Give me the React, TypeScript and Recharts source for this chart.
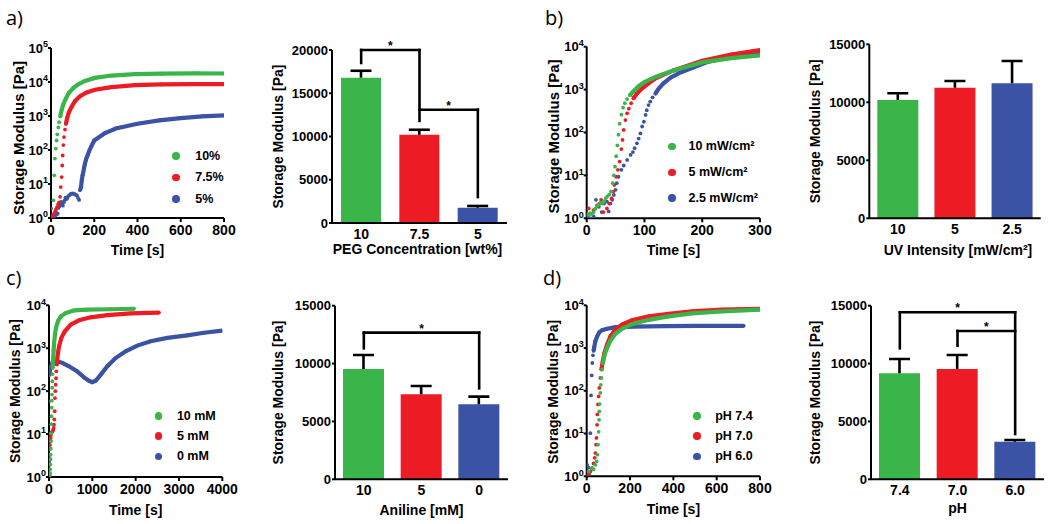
import React from 'react';
import {
  ScatterChart, Scatter, XAxis, YAxis, BarChart, Bar, Cell, ReferenceLine, Legend,
} from 'recharts';

const FONT = "'Liberation Sans', Arial, Helvetica, sans-serif";
const GREEN = '#39B54A';
const RED = '#ED1C24';
const BLUE = '#3A53A4';

// ---------- Panel a: PEG concentration (time [s], storage modulus [Pa]) ----------
const a10Dots = [[11, 3.3], [15, 18], [18, 56], [22, 110], [26, 190], [29, 290], [34, 460], [38, 660], [43, 980]];
const a10Trace = [[43, 980], [49, 1500], [57, 2200], [68, 3200], [83, 4800], [103, 6600], [126, 8500], [157, 10700], [203, 13200], [280, 15500], [388, 17000], [512, 17600], [666, 18000], [800, 17800]];
const a75Dots = [[3, 1.07], [8, 1.2], [13, 1.3], [18, 1.5], [23, 1.8], [28, 2.1], [33, 2.5], [37, 2.9], [42, 4.2], [45, 8.1], [49, 16], [52, 35], [54, 69], [57, 140], [60, 240], [65, 400], [69, 590]];
const a75Trace = [[69, 590], [75, 890], [83, 1300], [96, 1900], [111, 2750], [134, 3800], [165, 4900], [203, 5900], [280, 7100], [388, 8100], [512, 8500], [666, 8700], [800, 8700]];
const a5Dots = [[0, 1.9], [6, 1.07], [11, 1.0], [15, 1.2], [19, 1.1], [23, 1.5], [27, 1.3], [31, 1.35], [35, 2.0], [39, 2.2], [43, 2.6], [47, 3.0], [51, 2.8], [55, 2.3], [59, 2.9], [63, 3.3], [67, 4.0], [72, 3.6], [76, 3.9], [80, 4.4], [85, 4.7], [90, 5.0], [95, 5.2], [100, 5.3], [105, 5.1], [110, 5.0], [115, 4.8], [120, 4.6], [125, 3.9], [130, 3.4]];
const a5Trace = [[134, 6.5], [139, 8.1], [142, 12.6], [146, 18], [149, 22], [153, 30], [157, 40], [163, 55], [169, 69], [177, 95], [185, 123], [200, 190], [250, 316], [300, 430], [400, 590], [500, 740], [600, 870], [700, 980], [800, 1050]];

// ---------- Panel b: UV intensity ----------
const b10Dots = [[0, 1.26], [3, 1.2], [6, 1.3], [9, 1.26], [12, 1.4], [15, 1.66], [18, 1.9], [21, 2.1], [24, 2.3], [27, 2.24], [30, 2.5], [33, 2.95], [36, 3.3], [39, 3.55], [42, 4.2], [45, 6.6], [47, 10], [49, 16], [51, 28], [53, 50], [55, 89], [57, 160], [60, 260], [63, 380], [66, 480], [70, 600], [75, 740]];
const b10Trace = [[75, 740], [80, 890], [90, 1200], [100, 1500], [120, 2000], [150, 2800], [200, 4300], [250, 5400], [300, 6300]];
const b5Dots = [[3.5, 1.7], [6, 1.3], [12, 1.55], [18, 2.0], [22, 2.2], [25, 2.7], [29, 1.4], [35, 1.7], [39, 2.2], [43, 2.9], [46, 4.2], [48, 6.0], [51, 9.3], [54, 13.5], [57, 21], [60, 41], [62, 67], [64, 115], [67, 195], [70, 280], [73, 360], [77, 480], [81, 630]];
const b5Trace = [[81, 630], [87, 810], [96, 1070], [107, 1400], [120, 1860], [150, 2800], [200, 4700], [250, 6600], [300, 8300]];
const b25Dots = [[2, 1.1], [6, 1.0], [12, 1.1], [16, 2.7], [21, 1.86], [26, 1.4], [30, 2.2], [35, 2.45], [38, 1.45], [41, 2.2], [44, 2.7], [47, 3.5], [50, 4.6], [52, 6.6], [55, 9.3], [60, 13.5], [64, 17], [70, 23], [76, 30], [80, 35], [83, 43], [87, 56], [90, 72], [93, 95], [96, 138], [99, 178], [102, 257], [104, 330], [107, 436], [110, 525], [114, 660], [119, 810]];
const b25Trace = [[119, 810], [125, 1070], [133, 1400], [145, 1900], [159, 2400], [182, 3200], [211, 4500], [252, 5900], [300, 7200]];

// ---------- Panel c: aniline ----------
const c10Dots = [[20, 1.1], [23, 1.23], [27, 1.5], [31, 1.95], [35, 2.6], [38, 3.3], [42, 4.6], [46, 6.8], [50, 10.5], [54, 17], [58, 26], [62, 41], [66, 60], [69, 83], [73, 120], [77, 170], [81, 250], [85, 350]];
const c10Trace = [[85, 350], [92, 480], [100, 650], [107, 900], [115, 1200], [138, 2100], [162, 3000], [208, 4300], [269, 5500], [385, 6600], [577, 7600], [885, 7900], [1423, 8100], [1962, 8300]];
const c5Dots = [[0, 1.1], [4, 1.5], [8, 1.95], [12, 2.6], [15, 3.3], [19, 4.5], [23, 5.6], [30, 7], [38, 8.1], [46, 9.5], [54, 10.7], [65, 11], [77, 11.5], [90, 12], [100, 12.6], [108, 14], [115, 16.6], [123, 22], [131, 34], [138, 69], [146, 100], [154, 141], [162, 200], [169, 290], [180, 420]];
const c5Trace = [[180, 420], [192, 590], [210, 800], [231, 1100], [285, 1740], [362, 2450], [500, 3550], [692, 4470], [962, 5250], [1346, 5900], [1885, 6460], [2538, 6760]];
const c0Dots = [[0, 2.3], [0, 58], [8, 240]];
const c0Trace = [[8, 240], [23, 316], [77, 457], [192, 500], [308, 457], [462, 380], [654, 288], [808, 209], [923, 174], [1000, 162], [1077, 174], [1192, 240], [1346, 380], [1538, 590], [1769, 850], [2038, 1150], [2346, 1450], [2731, 1740], [3192, 2000], [3577, 2290], [4000, 2570]];

// ---------- Panel d: pH ----------
const d74Dots = [[9, 1.3], [25, 1.55], [32, 1.45], [40, 1.86], [46, 2.24], [49, 3.2], [52, 5.5], [55, 11], [57, 21], [58, 33], [60, 49], [63, 89], [65, 138], [68, 200], [71, 316], [75, 447]];
const d74Trace = [[75, 447], [83, 708], [94, 1000], [109, 1480], [132, 2140], [163, 2820], [209, 3630], [286, 4570], [378, 5500], [486, 6460], [625, 7240], [800, 7940]];
const d70Dots = [[2, 1.1], [9, 1.2], [17, 1.3], [25, 1.55], [32, 2.0], [37, 2.7], [40, 3.5], [43, 5.5], [45, 7.9], [48, 16], [49, 28], [52, 48], [55, 74], [58, 117], [63, 200], [68, 316]];
const d70Trace = [[68, 316], [74, 490], [82, 780], [94, 1200], [109, 1860], [132, 2690], [163, 3550], [209, 4470], [286, 5500], [378, 6310], [486, 7240], [625, 7940], [800, 8300]];
const d60Dots = [[2, 1.86], [5, 1.3], [8, 1.6], [12, 1.1], [17, 10.2], [20, 78], [23, 229], [26, 447], [29, 676], [32, 870]];
const d60Trace = [[32, 870], [35, 1070], [40, 1450], [48, 1860], [58, 2340], [71, 2630], [94, 2820], [132, 3090], [209, 3160], [363, 3240], [517, 3310], [725, 3310]];

// ---------- Bar panels ----------
const aCats = ['10', '7.5', '5'];
const aMean = [16800, 10200, 1770];
const aErr = [800, 580, 200];
const bCats = ['10', '5', '2.5'];
const bMean = [10200, 11260, 11640];
const bErr = [580, 580, 1920];
const cCats = ['10', '5', '0'];
const cMean = [9530, 7340, 6480];
const cErr = [1210, 720, 660];
const dCats = ['7.4', '7.0', '6.0'];
const dMean = [9160, 9530, 3250];
const dErr = [1230, 1210, 150];

const aBrackets = [
  { from: '10', to: '7.5', y: 20000, left: 18500, right: 11800 },
  { from: '7.5', to: '5', y: 13100, left: null, right: 3000 },
];
const cBrackets = [{ from: '10', to: '0', y: 12670, left: 11320, right: 7860 }];
const dBrackets = [
  { from: '7.4', to: '6.0', y: 14430, left: 11320, right: 3910 },
  { from: '7.0', to: '6.0', y: 12810, left: 11540, right: null },
];

const logTimeTicksA = [0, 200, 400, 600, 800];
const logTimeTicksB = [0, 100, 200, 300];
const logTimeTicksC = [0, 1000, 2000, 3000, 4000];
const logYTicks5 = [1, 10, 100, 1000, 10000, 100000];
const logYTicks4 = [1, 10, 100, 1000, 10000];
const barYTicks20 = [0, 5000, 10000, 15000, 20000];
const barYTicks15 = [0, 5000, 10000, 15000];
const barColors = [GREEN, RED, BLUE];

const toXY = (arr: number[][]) => arr.map(([t, g]) => ({ t, g }));
const AX = { stroke: '#000', strokeWidth: 2 };

const LogTick = (p: any) => {
  const e = Math.round(Math.log10(p.payload.value));
  return (
    <text x={p.x} y={p.y} textAnchor="end" fill="#000" fontFamily={FONT} fontWeight="bold" fontSize={13} dy="0.36em">
      <tspan>10</tspan>
      <tspan dy="-0.6em" fontSize={9}>{e}</tspan>
    </text>
  );
};

const yTitle = (text: string, dx: number, dy: number, size: number) => (p: any) => {
  const vb = p.viewBox || {};
  const x = (vb.x || 0) + dx;
  const y = (vb.y || 0) + (vb.height || 0) / 2 + dy;
  return (
    <text x={x} y={y} transform={`rotate(-90 ${x} ${y})`} textAnchor="middle" dominantBaseline="central"
      fontFamily={FONT} fontWeight="bold" fontSize={size} fill="#000">{text}</text>
  );
};

const xTitle = (text: string, off: number, dx: number) => (p: any) => {
  const vb = p.viewBox || {};
  const x = (vb.x || 0) + (vb.width || 0) / 2 + dx;
  const y = (vb.y || 0) + (vb.height || 0) - off;
  return (
    <text x={x} y={y} textAnchor="middle" fontFamily={FONT} fontWeight="bold" fontSize={14} fill="#000">{text}</text>
  );
};

const legendContent = (gap: number, rowH: number, order: string[]) => (props: any) => {
  const items = (props.payload || [])
    .filter((it: any) => it.type !== 'none' && order.indexOf(it.value) >= 0)
    .slice()
    .sort((a: any, b: any) => order.indexOf(a.value) - order.indexOf(b.value));
  return (
    <div>
      {items.map((it: any, i: number) => (
        <div key={i} style={{ display: 'flex', alignItems: 'center', height: rowH }}>
          <span style={{ width: 7.6, height: 7.6, borderRadius: '50%', background: it.color, display: 'inline-block', flex: 'none' }} />
          <span style={{ marginLeft: gap, fontFamily: FONT, fontWeight: 'bold', fontSize: 12.5, color: '#000', whiteSpace: 'nowrap', lineHeight: 1 }}>{it.value}</span>
        </div>
      ))}
    </div>
  );
};

const dotShape = (color: string) => (p: any) => <circle cx={p.cx} cy={p.cy} r={1.9} fill={color} />;

type Series = { name: string; color: string; dots: number[][]; trace: number[][] };

function LogPanel(props: any) {
  const { L, T, W, H, mt, mr, yw, xh, xMax, xTicks, yTicks, series, xOff, yDx, yDy, ySize, leg } = props;
  const children: any[] = [];
  // draw last-listed series first so the first-listed one sits on top
  (series as Series[]).slice().reverse().forEach((s, i) => {
    children.push(
      <Scatter key={`d${i}`} data={toXY(s.dots)} fill={s.color} legendType="none" shape={dotShape(s.color)} isAnimationActive={false} />
    );
    children.push(
      <Scatter key={`t${i}`} name={s.name} data={toXY(s.trace)} fill={s.color} line={{ stroke: s.color, strokeWidth: 4.2 }}
        shape={dotShape(s.color)} isAnimationActive={false} />
    );
  });
  const order = (series as Series[]).map((s) => s.name);
  return (
    <div style={{ position: 'absolute', left: L, top: T }}>
      <ScatterChart width={W} height={H} margin={{ top: mt, right: mr, bottom: 0, left: 0 }}>
        <XAxis type="number" dataKey="t" domain={[0, xMax]} ticks={xTicks} interval={0} height={xh}
          axisLine={AX} tickLine={AX} tickSize={4} tickMargin={3} allowDataOverflow
          tick={{ fill: '#000', fontSize: 14, fontWeight: 'bold', fontFamily: FONT }}
          label={xTitle('Time [s]', xOff, 0)} />
        <YAxis type="number" dataKey="g" scale="log" domain={[1, yTicks[yTicks.length - 1]]} ticks={yTicks} interval={0}
          width={yw} axisLine={AX} tickLine={AX} tickSize={3} tickMargin={0} allowDataOverflow
          tick={LogTick} label={yTitle('Storage Modulus [Pa]', yDx, yDy, ySize)} />
        {children}
        <Legend layout="vertical" align="center" verticalAlign="middle"
          wrapperStyle={{ left: leg.left, top: leg.top, width: 140, height: 'auto' }}
          content={legendContent(leg.gap, leg.rowH, order)} />
      </ScatterChart>
    </div>
  );
}

const ErrShape = (p: any) => {
  const cx = p.x + p.width / 2;
  return (
    <g>
      <line x1={cx} x2={cx} y1={p.y + p.height} y2={p.y} stroke="#000" strokeWidth={2.6} />
      <line x1={cx - 10.5} x2={cx + 10.5} y1={p.y} y2={p.y} stroke="#000" strokeWidth={2.6} />
    </g>
  );
};

function BarPanel(props: any) {
  const { L, T, W, H, mt, mr, yw, xh, cats, mean, err, yTicks, brackets, xLabel, xOff, xDx, yDx, barSize } = props;
  const rows = cats.map((c: string, i: number) => ({ cat: c, mean: mean[i], err: err[i] }));
  const lines: any[] = [];
  (brackets || []).forEach((b: any, i: number) => {
    lines.push(
      <ReferenceLine key={`h${i}`} segment={[{ x: b.from, y: b.y }, { x: b.to, y: b.y }]} stroke="#000" strokeWidth={2.6}
        strokeLinecap="square" ifOverflow="visible"
        label={{ value: '*', position: 'top', offset: 0, fill: '#000', fontSize: 12, fontWeight: 'bold', fontFamily: FONT }} />
    );
    if (b.left != null) {
      lines.push(
        <ReferenceLine key={`l${i}`} segment={[{ x: b.from, y: b.y }, { x: b.from, y: b.left }]} stroke="#000" strokeWidth={2.6}
          strokeLinecap="square" ifOverflow="visible" />
      );
    }
    if (b.right != null) {
      lines.push(
        <ReferenceLine key={`r${i}`} segment={[{ x: b.to, y: b.y }, { x: b.to, y: b.right }]} stroke="#000" strokeWidth={2.6}
          strokeLinecap="square" ifOverflow="visible" />
      );
    }
  });
  return (
    <div style={{ position: 'absolute', left: L, top: T }}>
      <BarChart width={W} height={H} data={rows} margin={{ top: mt, right: mr, bottom: 0, left: 0 }} barSize={barSize}>
        <XAxis dataKey="cat" type="category" height={xh} axisLine={AX} tickLine={false} tickSize={3} tickMargin={3} interval={0}
          tick={{ fill: '#000', fontSize: 14, fontWeight: 'bold', fontFamily: FONT }}
          label={xTitle(xLabel, xOff, xDx)} />
        <YAxis type="number" domain={[0, yTicks[yTicks.length - 1]]} ticks={yTicks} interval={0} width={yw}
          axisLine={AX} tickLine={AX} tickSize={3} tickMargin={1} allowDataOverflow
          tick={{ fill: '#000', fontSize: 13, fontWeight: 'bold', fontFamily: FONT }}
          label={yTitle('Storage Modulus [Pa]', yDx, 0, 14)} />
        <Bar dataKey="mean" stackId="s" isAnimationActive={false}>
          {cats.map((c: string, i: number) => <Cell key={c} fill={barColors[i]} />)}
        </Bar>
        <Bar dataKey="err" stackId="s" isAnimationActive={false} shape={ErrShape} />
        {lines}
      </BarChart>
    </div>
  );
}

const panelLetters = ['a)', 'b)', 'c)', 'd)'];
const letterPos = [[6, 25], [545, 25], [6, 285], [543, 285]];

export default function App() {
  const aSeries: Series[] = [
    { name: '10%', color: GREEN, dots: a10Dots, trace: a10Trace },
    { name: '7.5%', color: RED, dots: a75Dots, trace: a75Trace },
    { name: '5%', color: BLUE, dots: a5Dots, trace: a5Trace },
  ];
  const bSeries: Series[] = [
    { name: '10 mW/cm²', color: GREEN, dots: b10Dots, trace: b10Trace },
    { name: '5 mW/cm²', color: RED, dots: b5Dots, trace: b5Trace },
    { name: '2.5 mW/cm²', color: BLUE, dots: b25Dots, trace: b25Trace },
  ];
  const cSeries: Series[] = [
    { name: '10 mM', color: GREEN, dots: c10Dots, trace: c10Trace },
    { name: '5 mM', color: RED, dots: c5Dots, trace: c5Trace },
    { name: '0 mM', color: BLUE, dots: c0Dots, trace: c0Trace },
  ];
  const dSeries: Series[] = [
    { name: 'pH 7.4', color: GREEN, dots: d74Dots, trace: d74Trace },
    { name: 'pH 7.0', color: RED, dots: d70Dots, trace: d70Trace },
    { name: 'pH 6.0', color: BLUE, dots: d60Dots, trace: d60Trace },
  ];
  return (
    <div style={{ position: 'absolute', left: 0, top: 0, width: 1050, height: 524, background: '#fff', overflow: 'hidden' }}>
      <LogPanel L={0} T={0} W={240} H={262} mt={48} mr={16} yw={51} xh={44} xMax={800} xTicks={logTimeTicksA}
        yTicks={logYTicks5} series={aSeries} xOff={7} yDx={18.5} yDy={5} ySize={15}
        leg={{ left: 172, top: 145.3, gap: 15.6, rowH: 21.5 }} />
      <BarPanel L={250} T={0} W={262} H={262} mt={50} mr={5} yw={82} xh={39} cats={aCats} mean={aMean} err={aErr}
        yTicks={barYTicks20} brackets={aBrackets} xLabel="PEG Concentration [wt%]" xOff={8} xDx={-2} yDx={28.3} barSize={40} />
      <LogPanel L={520} T={0} W={255} H={262} mt={46.7} mr={15} yw={66.7} xh={43.7} xMax={300} xTicks={logTimeTicksB}
        yTicks={logYTicks4} series={bSeries} xOff={7} yDx={33.3} yDy={4} ySize={15}
        leg={{ left: 148, top: 133.8, gap: 12.9, rowH: 25.8 }} />
      <BarPanel L={790} T={0} W={260} H={262} mt={44.3} mr={9.3} yw={79.3} xh={43.7} cats={bCats} mean={bMean} err={bErr}
        yTicks={barYTicks15} brackets={[]} xLabel="UV Intensity [mW/cm²]" xOff={7} xDx={3} yDx={25} barSize={41} />
      <LogPanel L={0} T={262} W={240} H={262} mt={43.3} mr={17.7} yw={49} xh={47} xMax={4000} xTicks={logTimeTicksC}
        yTicks={logYTicks4} series={cSeries} xOff={9} yDx={15} yDy={0} ySize={14}
        leg={{ left: 154.6, top: 143.8, gap: 14.7, rowH: 20.3 }} />
      <BarPanel L={250} T={262} W={262} H={262} mt={43.7} mr={4} yw={85} xh={44.7} cats={cCats} mean={cMean} err={cErr}
        yTicks={barYTicks15} brackets={cBrackets} xLabel="Aniline [mM]" xOff={9} xDx={0} yDx={28.3} barSize={41} />
      <LogPanel L={520} T={262} W={255} H={262} mt={43.3} mr={15} yw={66.7} xh={47.7} xMax={800} xTicks={logTimeTicksA}
        yTicks={logYTicks4} series={dSeries} xOff={10} yDx={33.3} yDy={1} ySize={14}
        leg={{ left: 173, top: 143.8, gap: 14.6, rowH: 20.3 }} />
      <BarPanel L={790} T={262} W={260} H={262} mt={43.7} mr={6} yw={81} xh={44.7} cats={dCats} mean={dMean} err={dErr}
        yTicks={barYTicks15} brackets={dBrackets} xLabel="pH" xOff={11} xDx={0} yDx={25} barSize={41} />
      <svg width={1050} height={524} style={{ position: 'absolute', left: 0, top: 0, pointerEvents: 'none' }}>
        {panelLetters.map((t, i) => (
          <text key={t} x={letterPos[i][0]} y={letterPos[i][1]} fontFamily="'Open Sans', 'Noto Sans', sans-serif" fontSize={20} fill="#000">{t}</text>
        ))}
      </svg>
    </div>
  );
}
